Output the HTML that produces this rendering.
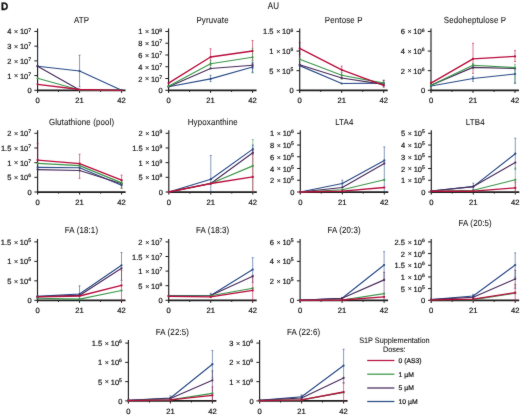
<!DOCTYPE html>
<html><head><meta charset="utf-8"><style>
html,body{margin:0;padding:0;background:#fff;width:520px;height:416px;overflow:hidden}
svg{display:block}
text{font-family:"Liberation Sans", sans-serif;fill:#111;stroke:#111;stroke-width:0.06px;text-rendering:geometricPrecision}
.t{stroke-width:0.2px}
</style></head><body>
<svg width="520" height="416" viewBox="0 0 520 416">
<defs><filter id="bl" filterUnits="userSpaceOnUse" x="0" y="0" width="520" height="416" color-interpolation-filters="sRGB"><feConvolveMatrix order="3" kernelMatrix="1 2 1 2 36 2 1 2 1" preserveAlpha="true"/></filter></defs>
<g filter="url(#bl)">
<rect width="520" height="416" fill="#fff"/>
<text transform="translate(1 9.75) scale(1 1.08)" font-size="10" font-weight="bold" style="fill:#111;stroke:#111;stroke-width:0.35">D</text>
<text transform="translate(267.8 9.4) scale(1 1.2)" font-size="8">AU</text>
<text transform="translate(81.55 22.85) scale(1 1.12)" font-size="7.9" letter-spacing="0.15" text-anchor="middle">ATP</text>
<path d="M37.55 28.45V92.9" stroke="#1c1c1c" stroke-width="1.15" fill="none"/>
<path d="M36.95 90.3H125.55" stroke="#1c1c1c" stroke-width="1.75" fill="none"/>
<text x="11.35" y="34.45" font-size="7.5" class="t" text-anchor="end">4</text>
<text x="16.05" y="34.25" font-size="7" text-anchor="middle">×</text>
<text x="24.05" y="34.45" font-size="7.5" class="t" text-anchor="middle">10</text>
<text x="29.65" y="31.55" font-size="5" class="t" text-anchor="middle">7</text>
<text x="11.35" y="49.16" font-size="7.5" class="t" text-anchor="end">3</text>
<text x="16.05" y="48.96" font-size="7" text-anchor="middle">×</text>
<text x="24.05" y="49.16" font-size="7.5" class="t" text-anchor="middle">10</text>
<text x="29.65" y="46.26" font-size="5" class="t" text-anchor="middle">7</text>
<text x="11.35" y="63.88" font-size="7.5" class="t" text-anchor="end">2</text>
<text x="16.05" y="63.67" font-size="7" text-anchor="middle">×</text>
<text x="24.05" y="63.88" font-size="7.5" class="t" text-anchor="middle">10</text>
<text x="29.65" y="60.98" font-size="5" class="t" text-anchor="middle">7</text>
<text x="11.35" y="78.59" font-size="7.5" class="t" text-anchor="end">1</text>
<text x="16.05" y="78.39" font-size="7" text-anchor="middle">×</text>
<text x="24.05" y="78.59" font-size="7.5" class="t" text-anchor="middle">10</text>
<text x="29.65" y="75.69" font-size="5" class="t" text-anchor="middle">7</text>
<text x="29.55" y="93.3" font-size="7.5" class="t" text-anchor="middle">0</text>
<path d="M34.35 31.45H37.55M34.35 46.16H37.55M34.35 60.88H37.55M34.35 75.59H37.55M34.35 90.3H37.55M79.55 90.3v2.6M121.55 90.3v2.6M58.55 90.3v1.6M100.55 90.3v1.6" stroke="#1c1c1c" stroke-width="1" fill="none"/>
<text x="37.55" y="103.2" font-size="7.6" class="t" text-anchor="middle">0</text>
<text x="79.55" y="103.2" font-size="7.6" class="t" text-anchor="middle">21</text>
<text x="121.55" y="103.2" font-size="7.6" class="t" text-anchor="middle">42</text>
<path d="M79.55 55.2V86.8M78.55 55.2h2M78.55 86.8h2" stroke="#284a86" stroke-width="0.8" fill="none" opacity="0.7"/>
<path d="M37.57 47V66.2M36.57 47h2M36.57 66.2h2" stroke="#284a86" stroke-width="0.8" fill="none" opacity="0.7"/>
<polyline points="37.55,66.2 79.55,71 121.55,90.3" stroke="#284a86" stroke-width="1.15" fill="none" stroke-linejoin="round"/>
<circle cx="37.55" cy="66.2" r="1.1" fill="#284a86"/>
<circle cx="79.55" cy="71" r="1.1" fill="#284a86"/>
<circle cx="121.55" cy="90.3" r="1.1" fill="#284a86"/>
<polyline points="37.55,66.2 79.55,90 121.55,90.3" stroke="#472a5a" stroke-width="1.15" fill="none" stroke-linejoin="round"/>
<circle cx="37.55" cy="66.2" r="1.1" fill="#472a5a"/>
<circle cx="79.55" cy="90" r="1.1" fill="#472a5a"/>
<circle cx="121.55" cy="90.3" r="1.1" fill="#472a5a"/>
<polyline points="37.55,78.3 79.55,90 121.55,90.3" stroke="#3a9648" stroke-width="1.15" fill="none" stroke-linejoin="round"/>
<circle cx="37.55" cy="78.3" r="1.1" fill="#3a9648"/>
<circle cx="79.55" cy="90" r="1.1" fill="#3a9648"/>
<circle cx="121.55" cy="90.3" r="1.1" fill="#3a9648"/>
<polyline points="37.55,84.3 79.55,89.5 121.55,90.3" stroke="#b80c3c" stroke-width="1.35" fill="none" stroke-linejoin="round"/>
<circle cx="37.55" cy="84.3" r="1.1" fill="#b80c3c"/>
<circle cx="79.55" cy="89.5" r="1.1" fill="#b80c3c"/>
<circle cx="121.55" cy="90.3" r="1.1" fill="#b80c3c"/>
<text transform="translate(212.55 22.85) scale(1 1.12)" font-size="7.9" letter-spacing="0.15" text-anchor="middle">Pyruvate</text>
<path d="M168.55 28.45V92.9" stroke="#1c1c1c" stroke-width="1.15" fill="none"/>
<path d="M167.95 90.3H256.55" stroke="#1c1c1c" stroke-width="1.75" fill="none"/>
<text x="142.35" y="34.45" font-size="7.5" class="t" text-anchor="end">1</text>
<text x="147.05" y="34.25" font-size="7" text-anchor="middle">×</text>
<text x="155.05" y="34.45" font-size="7.5" class="t" text-anchor="middle">10</text>
<text x="160.65" y="31.55" font-size="5" class="t" text-anchor="middle">8</text>
<text x="142.35" y="46.22" font-size="7.5" class="t" text-anchor="end">8</text>
<text x="147.05" y="46.02" font-size="7" text-anchor="middle">×</text>
<text x="155.05" y="46.22" font-size="7.5" class="t" text-anchor="middle">10</text>
<text x="160.65" y="43.32" font-size="5" class="t" text-anchor="middle">7</text>
<text x="142.35" y="57.99" font-size="7.5" class="t" text-anchor="end">6</text>
<text x="147.05" y="57.79" font-size="7" text-anchor="middle">×</text>
<text x="155.05" y="57.99" font-size="7.5" class="t" text-anchor="middle">10</text>
<text x="160.65" y="55.09" font-size="5" class="t" text-anchor="middle">7</text>
<text x="142.35" y="69.76" font-size="7.5" class="t" text-anchor="end">4</text>
<text x="147.05" y="69.56" font-size="7" text-anchor="middle">×</text>
<text x="155.05" y="69.76" font-size="7.5" class="t" text-anchor="middle">10</text>
<text x="160.65" y="66.86" font-size="5" class="t" text-anchor="middle">7</text>
<text x="142.35" y="81.53" font-size="7.5" class="t" text-anchor="end">2</text>
<text x="147.05" y="81.33" font-size="7" text-anchor="middle">×</text>
<text x="155.05" y="81.53" font-size="7.5" class="t" text-anchor="middle">10</text>
<text x="160.65" y="78.63" font-size="5" class="t" text-anchor="middle">7</text>
<text x="160.55" y="93.3" font-size="7.5" class="t" text-anchor="middle">0</text>
<path d="M165.35 31.45H168.55M165.35 43.22H168.55M165.35 54.99H168.55M165.35 66.76H168.55M165.35 78.53H168.55M165.35 90.3H168.55M210.55 90.3v2.6M252.55 90.3v2.6M189.55 90.3v1.6M231.55 90.3v1.6" stroke="#1c1c1c" stroke-width="1" fill="none"/>
<text x="168.55" y="103.2" font-size="7.6" class="t" text-anchor="middle">0</text>
<text x="210.55" y="103.2" font-size="7.6" class="t" text-anchor="middle">21</text>
<text x="252.55" y="103.2" font-size="7.6" class="t" text-anchor="middle">42</text>
<path d="M210.55 48.7V65.3M209.55 48.7h2M209.55 65.3h2" stroke="#b80c3c" stroke-width="0.8" fill="none" opacity="0.7"/>
<path d="M210.55 60.3V68.3M209.55 60.3h2M209.55 68.3h2" stroke="#3a9648" stroke-width="0.8" fill="none" opacity="0.7"/>
<path d="M210.55 75.2V81.6M209.55 75.2h2M209.55 81.6h2" stroke="#284a86" stroke-width="0.8" fill="none" opacity="0.7"/>
<path d="M252.55 40.5V60.3M251.55 40.5h2M251.55 60.3h2" stroke="#b80c3c" stroke-width="0.8" fill="none" opacity="0.7"/>
<path d="M252.55 48.3V72.9M251.55 48.3h2M251.55 72.9h2" stroke="#3a9648" stroke-width="0.8" fill="none" opacity="0.7"/>
<path d="M252.55 62.3V72.3M251.55 62.3h2M251.55 72.3h2" stroke="#284a86" stroke-width="0.8" fill="none" opacity="0.7"/>
<path d="M252.55 63.3V68.3M251.55 63.3h2M251.55 68.3h2" stroke="#472a5a" stroke-width="0.8" fill="none" opacity="0.7"/>
<polyline points="168.55,86.7 210.55,78.9 252.55,67" stroke="#284a86" stroke-width="1.15" fill="none" stroke-linejoin="round"/>
<circle cx="168.55" cy="86.7" r="1.1" fill="#284a86"/>
<circle cx="210.55" cy="78.9" r="1.1" fill="#284a86"/>
<circle cx="252.55" cy="67" r="1.1" fill="#284a86"/>
<polyline points="168.55,86.7 210.55,68.5 252.55,65.2" stroke="#472a5a" stroke-width="1.15" fill="none" stroke-linejoin="round"/>
<circle cx="168.55" cy="86.7" r="1.1" fill="#472a5a"/>
<circle cx="210.55" cy="68.5" r="1.1" fill="#472a5a"/>
<circle cx="252.55" cy="65.2" r="1.1" fill="#472a5a"/>
<polyline points="168.55,86.2 210.55,63.7 252.55,57.3" stroke="#3a9648" stroke-width="1.15" fill="none" stroke-linejoin="round"/>
<circle cx="168.55" cy="86.2" r="1.1" fill="#3a9648"/>
<circle cx="210.55" cy="63.7" r="1.1" fill="#3a9648"/>
<circle cx="252.55" cy="57.3" r="1.1" fill="#3a9648"/>
<polyline points="168.55,83.1 210.55,57 252.55,51" stroke="#b80c3c" stroke-width="1.35" fill="none" stroke-linejoin="round"/>
<circle cx="168.55" cy="83.1" r="1.1" fill="#b80c3c"/>
<circle cx="210.55" cy="57" r="1.1" fill="#b80c3c"/>
<circle cx="252.55" cy="51" r="1.1" fill="#b80c3c"/>
<text transform="translate(343.7 22.85) scale(1 1.12)" font-size="7.9" letter-spacing="0.15" text-anchor="middle">Pentose P</text>
<path d="M299.7 42.4V54.3M298.7 42.4h2M298.7 54.3h2" stroke="#b80c3c" stroke-width="0.8" fill="none" opacity="0.7"/>
<path d="M299.7 28.45V92.9" stroke="#1c1c1c" stroke-width="1.15" fill="none"/>
<path d="M299.1 90.3H387.7" stroke="#1c1c1c" stroke-width="1.75" fill="none"/>
<text x="273.5" y="34.45" font-size="7.5" class="t" text-anchor="end">1.5</text>
<text x="278.2" y="34.25" font-size="7" text-anchor="middle">×</text>
<text x="286.2" y="34.45" font-size="7.5" class="t" text-anchor="middle">10</text>
<text x="291.8" y="31.55" font-size="5" class="t" text-anchor="middle">6</text>
<text x="273.5" y="54.07" font-size="7.5" class="t" text-anchor="end">1</text>
<text x="278.2" y="53.87" font-size="7" text-anchor="middle">×</text>
<text x="286.2" y="54.07" font-size="7.5" class="t" text-anchor="middle">10</text>
<text x="291.8" y="51.17" font-size="5" class="t" text-anchor="middle">6</text>
<text x="273.5" y="73.68" font-size="7.5" class="t" text-anchor="end">5</text>
<text x="278.2" y="73.48" font-size="7" text-anchor="middle">×</text>
<text x="286.2" y="73.68" font-size="7.5" class="t" text-anchor="middle">10</text>
<text x="291.8" y="70.78" font-size="5" class="t" text-anchor="middle">5</text>
<text x="291.7" y="93.3" font-size="7.5" class="t" text-anchor="middle">0</text>
<path d="M296.5 31.45H299.7M296.5 51.07H299.7M296.5 70.68H299.7M296.5 90.3H299.7M341.7 90.3v2.6M383.7 90.3v2.6M320.7 90.3v1.6M362.7 90.3v1.6" stroke="#1c1c1c" stroke-width="1" fill="none"/>
<text x="299.7" y="103.2" font-size="7.6" class="t" text-anchor="middle">0</text>
<text x="341.7" y="103.2" font-size="7.6" class="t" text-anchor="middle">21</text>
<text x="383.7" y="103.2" font-size="7.6" class="t" text-anchor="middle">42</text>
<path d="M341.7 66.1V78M340.7 66.1h2M340.7 78h2" stroke="#b80c3c" stroke-width="0.8" fill="none" opacity="0.7"/>
<path d="M341.7 72.3V79.3M340.7 72.3h2M340.7 79.3h2" stroke="#3a9648" stroke-width="0.8" fill="none" opacity="0.7"/>
<path d="M383.7 80.3V87.3M382.7 80.3h2M382.7 87.3h2" stroke="#b80c3c" stroke-width="0.8" fill="none" opacity="0.7"/>
<path d="M383.7 80.3V86.3M382.7 80.3h2M382.7 86.3h2" stroke="#284a86" stroke-width="0.8" fill="none" opacity="0.7"/>
<polyline points="299.7,65.6 341.7,83.5 383.7,83.1" stroke="#284a86" stroke-width="1.15" fill="none" stroke-linejoin="round"/>
<circle cx="299.7" cy="65.6" r="1.1" fill="#284a86"/>
<circle cx="341.7" cy="83.5" r="1.1" fill="#284a86"/>
<circle cx="383.7" cy="83.1" r="1.1" fill="#284a86"/>
<polyline points="299.7,64.8 341.7,78 383.7,84.4" stroke="#472a5a" stroke-width="1.15" fill="none" stroke-linejoin="round"/>
<circle cx="299.7" cy="64.8" r="1.1" fill="#472a5a"/>
<circle cx="341.7" cy="78" r="1.1" fill="#472a5a"/>
<circle cx="383.7" cy="84.4" r="1.1" fill="#472a5a"/>
<polyline points="299.7,59.3 341.7,75.2 383.7,83.1" stroke="#3a9648" stroke-width="1.15" fill="none" stroke-linejoin="round"/>
<circle cx="299.7" cy="59.3" r="1.1" fill="#3a9648"/>
<circle cx="341.7" cy="75.2" r="1.1" fill="#3a9648"/>
<circle cx="383.7" cy="83.1" r="1.1" fill="#3a9648"/>
<polyline points="299.7,48.4 341.7,69.8 383.7,85.3" stroke="#b80c3c" stroke-width="1.35" fill="none" stroke-linejoin="round"/>
<circle cx="299.7" cy="48.4" r="1.1" fill="#b80c3c"/>
<circle cx="341.7" cy="69.8" r="1.1" fill="#b80c3c"/>
<circle cx="383.7" cy="85.3" r="1.1" fill="#b80c3c"/>
<text transform="translate(475 22.85) scale(1 1.12)" font-size="7.9" letter-spacing="0.15" text-anchor="middle">Sedoheptulose P</text>
<path d="M431 28.45V92.9" stroke="#1c1c1c" stroke-width="1.15" fill="none"/>
<path d="M430.4 90.3H519" stroke="#1c1c1c" stroke-width="1.75" fill="none"/>
<text x="404.8" y="34.45" font-size="7.5" class="t" text-anchor="end">6</text>
<text x="409.5" y="34.25" font-size="7" text-anchor="middle">×</text>
<text x="417.5" y="34.45" font-size="7.5" class="t" text-anchor="middle">10</text>
<text x="423.1" y="31.55" font-size="5" class="t" text-anchor="middle">6</text>
<text x="404.8" y="54.07" font-size="7.5" class="t" text-anchor="end">4</text>
<text x="409.5" y="53.87" font-size="7" text-anchor="middle">×</text>
<text x="417.5" y="54.07" font-size="7.5" class="t" text-anchor="middle">10</text>
<text x="423.1" y="51.17" font-size="5" class="t" text-anchor="middle">6</text>
<text x="404.8" y="73.68" font-size="7.5" class="t" text-anchor="end">2</text>
<text x="409.5" y="73.48" font-size="7" text-anchor="middle">×</text>
<text x="417.5" y="73.68" font-size="7.5" class="t" text-anchor="middle">10</text>
<text x="423.1" y="70.78" font-size="5" class="t" text-anchor="middle">6</text>
<text x="423" y="93.3" font-size="7.5" class="t" text-anchor="middle">0</text>
<path d="M427.8 31.45H431M427.8 51.07H431M427.8 70.68H431M427.8 90.3H431M473 90.3v2.6M515 90.3v2.6M452 90.3v1.6M494 90.3v1.6" stroke="#1c1c1c" stroke-width="1" fill="none"/>
<text x="431" y="103.2" font-size="7.6" class="t" text-anchor="middle">0</text>
<text x="473" y="103.2" font-size="7.6" class="t" text-anchor="middle">21</text>
<text x="515" y="103.2" font-size="7.6" class="t" text-anchor="middle">42</text>
<path d="M473 43.3V73.4M472 43.3h2M472 73.4h2" stroke="#b80c3c" stroke-width="0.8" fill="none" opacity="0.7"/>
<path d="M473 63.3V68.3M472 63.3h2M472 68.3h2" stroke="#3a9648" stroke-width="0.8" fill="none" opacity="0.7"/>
<path d="M473 76.3V81.3M472 76.3h2M472 81.3h2" stroke="#284a86" stroke-width="0.8" fill="none" opacity="0.7"/>
<path d="M515 50.6V61.5M514 50.6h2M514 61.5h2" stroke="#b80c3c" stroke-width="0.8" fill="none" opacity="0.7"/>
<path d="M515 64.3V83.5M514 64.3h2M514 83.5h2" stroke="#3a9648" stroke-width="0.8" fill="none" opacity="0.7"/>
<path d="M515 68.3V83M514 68.3h2M514 83h2" stroke="#284a86" stroke-width="0.8" fill="none" opacity="0.7"/>
<polyline points="431,86 473,78.5 515,74" stroke="#284a86" stroke-width="1.15" fill="none" stroke-linejoin="round"/>
<circle cx="431" cy="86" r="1.1" fill="#284a86"/>
<circle cx="473" cy="78.5" r="1.1" fill="#284a86"/>
<circle cx="515" cy="74" r="1.1" fill="#284a86"/>
<polyline points="431,85.3 473,67.4 515,68.5" stroke="#472a5a" stroke-width="1.15" fill="none" stroke-linejoin="round"/>
<circle cx="431" cy="85.3" r="1.1" fill="#472a5a"/>
<circle cx="473" cy="67.4" r="1.1" fill="#472a5a"/>
<circle cx="515" cy="68.5" r="1.1" fill="#472a5a"/>
<polyline points="431,85.3 473,65.2 515,67.6" stroke="#3a9648" stroke-width="1.15" fill="none" stroke-linejoin="round"/>
<circle cx="431" cy="85.3" r="1.1" fill="#3a9648"/>
<circle cx="473" cy="65.2" r="1.1" fill="#3a9648"/>
<circle cx="515" cy="67.6" r="1.1" fill="#3a9648"/>
<polyline points="431,83.1 473,58.8 515,56.4" stroke="#b80c3c" stroke-width="1.35" fill="none" stroke-linejoin="round"/>
<circle cx="431" cy="83.1" r="1.1" fill="#b80c3c"/>
<circle cx="473" cy="58.8" r="1.1" fill="#b80c3c"/>
<circle cx="515" cy="56.4" r="1.1" fill="#b80c3c"/>
<text transform="translate(81.6 124.7) scale(1 1.12)" font-size="7.9" letter-spacing="0.15" text-anchor="middle">Glutathione (pool)</text>
<path d="M37.6 130.3V194.6" stroke="#1c1c1c" stroke-width="1.15" fill="none"/>
<path d="M37 192H125.6" stroke="#1c1c1c" stroke-width="1.75" fill="none"/>
<text x="11.4" y="136.3" font-size="7.5" class="t" text-anchor="end">2</text>
<text x="16.1" y="136.1" font-size="7" text-anchor="middle">×</text>
<text x="24.1" y="136.3" font-size="7.5" class="t" text-anchor="middle">10</text>
<text x="29.7" y="133.4" font-size="5" class="t" text-anchor="middle">7</text>
<text x="11.4" y="150.98" font-size="7.5" class="t" text-anchor="end">1.5</text>
<text x="16.1" y="150.78" font-size="7" text-anchor="middle">×</text>
<text x="24.1" y="150.98" font-size="7.5" class="t" text-anchor="middle">10</text>
<text x="29.7" y="148.08" font-size="5" class="t" text-anchor="middle">7</text>
<text x="11.4" y="165.65" font-size="7.5" class="t" text-anchor="end">1</text>
<text x="16.1" y="165.45" font-size="7" text-anchor="middle">×</text>
<text x="24.1" y="165.65" font-size="7.5" class="t" text-anchor="middle">10</text>
<text x="29.7" y="162.75" font-size="5" class="t" text-anchor="middle">7</text>
<text x="11.4" y="180.32" font-size="7.5" class="t" text-anchor="end">5</text>
<text x="16.1" y="180.12" font-size="7" text-anchor="middle">×</text>
<text x="24.1" y="180.32" font-size="7.5" class="t" text-anchor="middle">10</text>
<text x="29.7" y="177.42" font-size="5" class="t" text-anchor="middle">6</text>
<text x="29.6" y="195" font-size="7.5" class="t" text-anchor="middle">0</text>
<path d="M34.4 133.3H37.6M34.4 147.98H37.6M34.4 162.65H37.6M34.4 177.32H37.6M34.4 192H37.6M79.6 192v2.6M121.6 192v2.6M58.6 192v1.6M100.6 192v1.6" stroke="#1c1c1c" stroke-width="1" fill="none"/>
<text x="37.6" y="204.9" font-size="7.6" class="t" text-anchor="middle">0</text>
<text x="79.6" y="204.9" font-size="7.6" class="t" text-anchor="middle">21</text>
<text x="121.6" y="204.9" font-size="7.6" class="t" text-anchor="middle">42</text>
<path d="M37.62 143.7V160M36.62 143.7h2M36.62 160h2" stroke="#b80c3c" stroke-width="0.8" fill="none" opacity="0.7"/>
<path d="M79.6 154.2V178.4M78.6 154.2h2M78.6 178.4h2" stroke="#b80c3c" stroke-width="0.8" fill="none" opacity="0.7"/>
<path d="M121.6 175.1V188.4M120.6 175.1h2M120.6 188.4h2" stroke="#b80c3c" stroke-width="0.8" fill="none" opacity="0.7"/>
<path d="M121.6 181V188M120.6 181h2M120.6 188h2" stroke="#3a9648" stroke-width="0.8" fill="none" opacity="0.7"/>
<polyline points="37.6,167.4 79.6,167.8 121.6,185.3" stroke="#284a86" stroke-width="1.15" fill="none" stroke-linejoin="round"/>
<circle cx="37.6" cy="167.4" r="1.1" fill="#284a86"/>
<circle cx="79.6" cy="167.8" r="1.1" fill="#284a86"/>
<circle cx="121.6" cy="185.3" r="1.1" fill="#284a86"/>
<polyline points="37.6,169.6 79.6,170.5 121.6,183.8" stroke="#472a5a" stroke-width="1.15" fill="none" stroke-linejoin="round"/>
<circle cx="37.6" cy="169.6" r="1.1" fill="#472a5a"/>
<circle cx="79.6" cy="170.5" r="1.1" fill="#472a5a"/>
<circle cx="121.6" cy="183.8" r="1.1" fill="#472a5a"/>
<polyline points="37.6,163.4 79.6,165.6 121.6,182.9" stroke="#3a9648" stroke-width="1.15" fill="none" stroke-linejoin="round"/>
<circle cx="37.6" cy="163.4" r="1.1" fill="#3a9648"/>
<circle cx="79.6" cy="165.6" r="1.1" fill="#3a9648"/>
<circle cx="121.6" cy="182.9" r="1.1" fill="#3a9648"/>
<polyline points="37.6,160.1 79.6,163.7 121.6,180.2" stroke="#b80c3c" stroke-width="1.35" fill="none" stroke-linejoin="round"/>
<circle cx="37.6" cy="160.1" r="1.1" fill="#b80c3c"/>
<circle cx="79.6" cy="163.7" r="1.1" fill="#b80c3c"/>
<circle cx="121.6" cy="180.2" r="1.1" fill="#b80c3c"/>
<text transform="translate(212.8 124.7) scale(1 1.12)" font-size="7.9" letter-spacing="0.15" text-anchor="middle">Hypoxanthine</text>
<path d="M168.8 130.3V194.6" stroke="#1c1c1c" stroke-width="1.15" fill="none"/>
<path d="M168.2 192H256.8" stroke="#1c1c1c" stroke-width="1.75" fill="none"/>
<text x="142.6" y="136.3" font-size="7.5" class="t" text-anchor="end">2</text>
<text x="147.3" y="136.1" font-size="7" text-anchor="middle">×</text>
<text x="155.3" y="136.3" font-size="7.5" class="t" text-anchor="middle">10</text>
<text x="160.9" y="133.4" font-size="5" class="t" text-anchor="middle">9</text>
<text x="142.6" y="150.98" font-size="7.5" class="t" text-anchor="end">1.5</text>
<text x="147.3" y="150.78" font-size="7" text-anchor="middle">×</text>
<text x="155.3" y="150.98" font-size="7.5" class="t" text-anchor="middle">10</text>
<text x="160.9" y="148.08" font-size="5" class="t" text-anchor="middle">9</text>
<text x="142.6" y="165.65" font-size="7.5" class="t" text-anchor="end">1</text>
<text x="147.3" y="165.45" font-size="7" text-anchor="middle">×</text>
<text x="155.3" y="165.65" font-size="7.5" class="t" text-anchor="middle">10</text>
<text x="160.9" y="162.75" font-size="5" class="t" text-anchor="middle">9</text>
<text x="142.6" y="180.32" font-size="7.5" class="t" text-anchor="end">5</text>
<text x="147.3" y="180.12" font-size="7" text-anchor="middle">×</text>
<text x="155.3" y="180.32" font-size="7.5" class="t" text-anchor="middle">10</text>
<text x="160.9" y="177.42" font-size="5" class="t" text-anchor="middle">8</text>
<text x="160.8" y="195" font-size="7.5" class="t" text-anchor="middle">0</text>
<path d="M165.6 133.3H168.8M165.6 147.98H168.8M165.6 162.65H168.8M165.6 177.32H168.8M165.6 192H168.8M210.8 192v2.6M252.8 192v2.6M189.8 192v1.6M231.8 192v1.6" stroke="#1c1c1c" stroke-width="1" fill="none"/>
<text x="168.8" y="204.9" font-size="7.6" class="t" text-anchor="middle">0</text>
<text x="210.8" y="204.9" font-size="7.6" class="t" text-anchor="middle">21</text>
<text x="252.8" y="204.9" font-size="7.6" class="t" text-anchor="middle">42</text>
<path d="M210.8 155.5V192M209.8 155.5h2M209.8 192h2" stroke="#284a86" stroke-width="0.8" fill="none" opacity="0.7"/>
<path d="M252.8 139.6V192M251.8 139.6h2M251.8 192h2" stroke="#3a9648" stroke-width="0.8" fill="none" opacity="0.7"/>
<path d="M252.8 150V192M251.8 150h2M251.8 192h2" stroke="#b80c3c" stroke-width="0.8" fill="none" opacity="0.7"/>
<path d="M252.8 145V154M251.8 145h2M251.8 154h2" stroke="#284a86" stroke-width="0.8" fill="none" opacity="0.7"/>
<polyline points="168.8,192 210.8,179.2 252.8,149.1" stroke="#284a86" stroke-width="1.15" fill="none" stroke-linejoin="round"/>
<circle cx="168.8" cy="192" r="1.1" fill="#284a86"/>
<circle cx="210.8" cy="179.2" r="1.1" fill="#284a86"/>
<circle cx="252.8" cy="149.1" r="1.1" fill="#284a86"/>
<polyline points="168.8,192 210.8,183.5 252.8,152.8" stroke="#472a5a" stroke-width="1.15" fill="none" stroke-linejoin="round"/>
<circle cx="168.8" cy="192" r="1.1" fill="#472a5a"/>
<circle cx="210.8" cy="183.5" r="1.1" fill="#472a5a"/>
<circle cx="252.8" cy="152.8" r="1.1" fill="#472a5a"/>
<polyline points="168.8,192 210.8,183.5 252.8,165.9" stroke="#3a9648" stroke-width="1.15" fill="none" stroke-linejoin="round"/>
<circle cx="168.8" cy="192" r="1.1" fill="#3a9648"/>
<circle cx="210.8" cy="183.5" r="1.1" fill="#3a9648"/>
<circle cx="252.8" cy="165.9" r="1.1" fill="#3a9648"/>
<polyline points="168.8,192 210.8,183.5 252.8,176.9" stroke="#b80c3c" stroke-width="1.35" fill="none" stroke-linejoin="round"/>
<circle cx="168.8" cy="192" r="1.1" fill="#b80c3c"/>
<circle cx="210.8" cy="183.5" r="1.1" fill="#b80c3c"/>
<circle cx="252.8" cy="176.9" r="1.1" fill="#b80c3c"/>
<text transform="translate(344.3 124.7) scale(1 1.12)" font-size="7.9" letter-spacing="0.15" text-anchor="middle">LTA4</text>
<path d="M300.3 130.3V194.6" stroke="#1c1c1c" stroke-width="1.15" fill="none"/>
<path d="M299.7 192H388.3" stroke="#1c1c1c" stroke-width="1.75" fill="none"/>
<text x="274.1" y="136.3" font-size="7.5" class="t" text-anchor="end">1</text>
<text x="278.8" y="136.1" font-size="7" text-anchor="middle">×</text>
<text x="286.8" y="136.3" font-size="7.5" class="t" text-anchor="middle">10</text>
<text x="292.4" y="133.4" font-size="5" class="t" text-anchor="middle">6</text>
<text x="274.1" y="148.04" font-size="7.5" class="t" text-anchor="end">8</text>
<text x="278.8" y="147.84" font-size="7" text-anchor="middle">×</text>
<text x="286.8" y="148.04" font-size="7.5" class="t" text-anchor="middle">10</text>
<text x="292.4" y="145.14" font-size="5" class="t" text-anchor="middle">5</text>
<text x="274.1" y="159.78" font-size="7.5" class="t" text-anchor="end">6</text>
<text x="278.8" y="159.58" font-size="7" text-anchor="middle">×</text>
<text x="286.8" y="159.78" font-size="7.5" class="t" text-anchor="middle">10</text>
<text x="292.4" y="156.88" font-size="5" class="t" text-anchor="middle">5</text>
<text x="274.1" y="171.52" font-size="7.5" class="t" text-anchor="end">4</text>
<text x="278.8" y="171.32" font-size="7" text-anchor="middle">×</text>
<text x="286.8" y="171.52" font-size="7.5" class="t" text-anchor="middle">10</text>
<text x="292.4" y="168.62" font-size="5" class="t" text-anchor="middle">5</text>
<text x="274.1" y="183.26" font-size="7.5" class="t" text-anchor="end">2</text>
<text x="278.8" y="183.06" font-size="7" text-anchor="middle">×</text>
<text x="286.8" y="183.26" font-size="7.5" class="t" text-anchor="middle">10</text>
<text x="292.4" y="180.36" font-size="5" class="t" text-anchor="middle">5</text>
<text x="292.3" y="195" font-size="7.5" class="t" text-anchor="middle">0</text>
<path d="M297.1 133.3H300.3M297.1 145.04H300.3M297.1 156.78H300.3M297.1 168.52H300.3M297.1 180.26H300.3M297.1 192H300.3M342.3 192v2.6M384.3 192v2.6M321.3 192v1.6M363.3 192v1.6" stroke="#1c1c1c" stroke-width="1" fill="none"/>
<text x="300.3" y="204.9" font-size="7.6" class="t" text-anchor="middle">0</text>
<text x="342.3" y="204.9" font-size="7.6" class="t" text-anchor="middle">21</text>
<text x="384.3" y="204.9" font-size="7.6" class="t" text-anchor="middle">42</text>
<path d="M384.3 146.9V192M383.3 146.9h2M383.3 192h2" stroke="#284a86" stroke-width="0.8" fill="none" opacity="0.7"/>
<path d="M342.3 180.2V186.2M341.3 180.2h2M341.3 186.2h2" stroke="#284a86" stroke-width="0.8" fill="none" opacity="0.7"/>
<polyline points="300.3,192 342.3,183.5 384.3,160.4" stroke="#284a86" stroke-width="1.15" fill="none" stroke-linejoin="round"/>
<circle cx="300.3" cy="192" r="1.1" fill="#284a86"/>
<circle cx="342.3" cy="183.5" r="1.1" fill="#284a86"/>
<circle cx="384.3" cy="160.4" r="1.1" fill="#284a86"/>
<polyline points="300.3,192 342.3,187.5 384.3,163.4" stroke="#472a5a" stroke-width="1.15" fill="none" stroke-linejoin="round"/>
<circle cx="300.3" cy="192" r="1.1" fill="#472a5a"/>
<circle cx="342.3" cy="187.5" r="1.1" fill="#472a5a"/>
<circle cx="384.3" cy="163.4" r="1.1" fill="#472a5a"/>
<polyline points="300.3,192 342.3,189.7 384.3,179.8" stroke="#3a9648" stroke-width="1.15" fill="none" stroke-linejoin="round"/>
<circle cx="300.3" cy="192" r="1.1" fill="#3a9648"/>
<circle cx="342.3" cy="189.7" r="1.1" fill="#3a9648"/>
<circle cx="384.3" cy="179.8" r="1.1" fill="#3a9648"/>
<polyline points="300.3,192 342.3,191.2 384.3,187.5" stroke="#b80c3c" stroke-width="1.35" fill="none" stroke-linejoin="round"/>
<circle cx="300.3" cy="192" r="1.1" fill="#b80c3c"/>
<circle cx="342.3" cy="191.2" r="1.1" fill="#b80c3c"/>
<circle cx="384.3" cy="187.5" r="1.1" fill="#b80c3c"/>
<text transform="translate(475.3 124.7) scale(1 1.12)" font-size="7.9" letter-spacing="0.15" text-anchor="middle">LTB4</text>
<path d="M431.3 130.3V194.6" stroke="#1c1c1c" stroke-width="1.15" fill="none"/>
<path d="M430.7 192H519.3" stroke="#1c1c1c" stroke-width="1.75" fill="none"/>
<text x="405.1" y="136.3" font-size="7.5" class="t" text-anchor="end">5</text>
<text x="409.8" y="136.1" font-size="7" text-anchor="middle">×</text>
<text x="417.8" y="136.3" font-size="7.5" class="t" text-anchor="middle">10</text>
<text x="423.4" y="133.4" font-size="5" class="t" text-anchor="middle">5</text>
<text x="405.1" y="148.04" font-size="7.5" class="t" text-anchor="end">4</text>
<text x="409.8" y="147.84" font-size="7" text-anchor="middle">×</text>
<text x="417.8" y="148.04" font-size="7.5" class="t" text-anchor="middle">10</text>
<text x="423.4" y="145.14" font-size="5" class="t" text-anchor="middle">5</text>
<text x="405.1" y="159.78" font-size="7.5" class="t" text-anchor="end">3</text>
<text x="409.8" y="159.58" font-size="7" text-anchor="middle">×</text>
<text x="417.8" y="159.78" font-size="7.5" class="t" text-anchor="middle">10</text>
<text x="423.4" y="156.88" font-size="5" class="t" text-anchor="middle">5</text>
<text x="405.1" y="171.52" font-size="7.5" class="t" text-anchor="end">2</text>
<text x="409.8" y="171.32" font-size="7" text-anchor="middle">×</text>
<text x="417.8" y="171.52" font-size="7.5" class="t" text-anchor="middle">10</text>
<text x="423.4" y="168.62" font-size="5" class="t" text-anchor="middle">5</text>
<text x="405.1" y="183.26" font-size="7.5" class="t" text-anchor="end">1</text>
<text x="409.8" y="183.06" font-size="7" text-anchor="middle">×</text>
<text x="417.8" y="183.26" font-size="7.5" class="t" text-anchor="middle">10</text>
<text x="423.4" y="180.36" font-size="5" class="t" text-anchor="middle">5</text>
<text x="423.3" y="195" font-size="7.5" class="t" text-anchor="middle">0</text>
<path d="M428.1 133.3H431.3M428.1 145.04H431.3M428.1 156.78H431.3M428.1 168.52H431.3M428.1 180.26H431.3M428.1 192H431.3M473.3 192v2.6M515.3 192v2.6M452.3 192v1.6M494.3 192v1.6" stroke="#1c1c1c" stroke-width="1" fill="none"/>
<text x="431.3" y="204.9" font-size="7.6" class="t" text-anchor="middle">0</text>
<text x="473.3" y="204.9" font-size="7.6" class="t" text-anchor="middle">21</text>
<text x="515.3" y="204.9" font-size="7.6" class="t" text-anchor="middle">42</text>
<path d="M515.3 138.2V169.2M514.3 138.2h2M514.3 169.2h2" stroke="#284a86" stroke-width="0.8" fill="none" opacity="0.7"/>
<path d="M515.3 168V192M514.3 168h2M514.3 192h2" stroke="#3a9648" stroke-width="0.8" fill="none" opacity="0.7"/>
<path d="M515.3 182V192M514.3 182h2M514.3 192h2" stroke="#b80c3c" stroke-width="0.8" fill="none" opacity="0.7"/>
<path d="M473.3 183.2V189.2M472.3 183.2h2M472.3 189.2h2" stroke="#284a86" stroke-width="0.8" fill="none" opacity="0.7"/>
<polyline points="431.3,191 473.3,186.6 515.3,153.7" stroke="#284a86" stroke-width="1.15" fill="none" stroke-linejoin="round"/>
<circle cx="431.3" cy="191" r="1.1" fill="#284a86"/>
<circle cx="473.3" cy="186.6" r="1.1" fill="#284a86"/>
<circle cx="515.3" cy="153.7" r="1.1" fill="#284a86"/>
<polyline points="431.3,191 473.3,186.6 515.3,162.5" stroke="#472a5a" stroke-width="1.15" fill="none" stroke-linejoin="round"/>
<circle cx="431.3" cy="191" r="1.1" fill="#472a5a"/>
<circle cx="473.3" cy="186.6" r="1.1" fill="#472a5a"/>
<circle cx="515.3" cy="162.5" r="1.1" fill="#472a5a"/>
<polyline points="431.3,191.2 473.3,190.2 515.3,179.8" stroke="#3a9648" stroke-width="1.15" fill="none" stroke-linejoin="round"/>
<circle cx="431.3" cy="191.2" r="1.1" fill="#3a9648"/>
<circle cx="473.3" cy="190.2" r="1.1" fill="#3a9648"/>
<circle cx="515.3" cy="179.8" r="1.1" fill="#3a9648"/>
<polyline points="431.3,191.2 473.3,191.2 515.3,187.9" stroke="#b80c3c" stroke-width="1.35" fill="none" stroke-linejoin="round"/>
<circle cx="431.3" cy="191.2" r="1.1" fill="#b80c3c"/>
<circle cx="473.3" cy="191.2" r="1.1" fill="#b80c3c"/>
<circle cx="515.3" cy="187.9" r="1.1" fill="#b80c3c"/>
<text transform="translate(81.5 233.3) scale(1 1.12)" font-size="7.9" letter-spacing="0.15" text-anchor="middle">FA (18:1)</text>
<path d="M37.5 238.9V302.9" stroke="#1c1c1c" stroke-width="1.15" fill="none"/>
<path d="M36.9 300.3H125.5" stroke="#1c1c1c" stroke-width="1.75" fill="none"/>
<text x="11.3" y="244.9" font-size="7.5" class="t" text-anchor="end">1.5</text>
<text x="16" y="244.7" font-size="7" text-anchor="middle">×</text>
<text x="24" y="244.9" font-size="7.5" class="t" text-anchor="middle">10</text>
<text x="29.6" y="242" font-size="5" class="t" text-anchor="middle">5</text>
<text x="11.3" y="264.37" font-size="7.5" class="t" text-anchor="end">1</text>
<text x="16" y="264.17" font-size="7" text-anchor="middle">×</text>
<text x="24" y="264.37" font-size="7.5" class="t" text-anchor="middle">10</text>
<text x="29.6" y="261.47" font-size="5" class="t" text-anchor="middle">5</text>
<text x="11.3" y="283.83" font-size="7.5" class="t" text-anchor="end">5</text>
<text x="16" y="283.63" font-size="7" text-anchor="middle">×</text>
<text x="24" y="283.83" font-size="7.5" class="t" text-anchor="middle">10</text>
<text x="29.6" y="280.93" font-size="5" class="t" text-anchor="middle">4</text>
<text x="29.5" y="303.3" font-size="7.5" class="t" text-anchor="middle">0</text>
<path d="M34.3 241.9H37.5M34.3 261.37H37.5M34.3 280.83H37.5M34.3 300.3H37.5M79.5 300.3v2.6M121.5 300.3v2.6M58.5 300.3v1.6M100.5 300.3v1.6" stroke="#1c1c1c" stroke-width="1" fill="none"/>
<text x="37.5" y="313.2" font-size="7.6" class="t" text-anchor="middle">0</text>
<text x="79.5" y="313.2" font-size="7.6" class="t" text-anchor="middle">21</text>
<text x="121.5" y="313.2" font-size="7.6" class="t" text-anchor="middle">42</text>
<path d="M121.5 252.5V280.3M120.5 252.5h2M120.5 280.3h2" stroke="#284a86" stroke-width="0.8" fill="none" opacity="0.7"/>
<path d="M121.5 270.3V300.3M120.5 270.3h2M120.5 300.3h2" stroke="#b80c3c" stroke-width="0.8" fill="none" opacity="0.7"/>
<path d="M79.5 285.8V300.3M78.5 285.8h2M78.5 300.3h2" stroke="#284a86" stroke-width="0.8" fill="none" opacity="0.7"/>
<polyline points="37.5,296.4 79.5,294 121.5,265.3" stroke="#284a86" stroke-width="1.15" fill="none" stroke-linejoin="round"/>
<circle cx="37.5" cy="296.4" r="1.1" fill="#284a86"/>
<circle cx="79.5" cy="294" r="1.1" fill="#284a86"/>
<circle cx="121.5" cy="265.3" r="1.1" fill="#284a86"/>
<polyline points="37.5,296.6 79.5,295.4 121.5,268.3" stroke="#472a5a" stroke-width="1.15" fill="none" stroke-linejoin="round"/>
<circle cx="37.5" cy="296.6" r="1.1" fill="#472a5a"/>
<circle cx="79.5" cy="295.4" r="1.1" fill="#472a5a"/>
<circle cx="121.5" cy="268.3" r="1.1" fill="#472a5a"/>
<polyline points="37.5,298.2 79.5,299.1 121.5,290.5" stroke="#3a9648" stroke-width="1.15" fill="none" stroke-linejoin="round"/>
<circle cx="37.5" cy="298.2" r="1.1" fill="#3a9648"/>
<circle cx="79.5" cy="299.1" r="1.1" fill="#3a9648"/>
<circle cx="121.5" cy="290.5" r="1.1" fill="#3a9648"/>
<polyline points="37.5,296.9 79.5,296 121.5,285.4" stroke="#b80c3c" stroke-width="1.35" fill="none" stroke-linejoin="round"/>
<circle cx="37.5" cy="296.9" r="1.1" fill="#b80c3c"/>
<circle cx="79.5" cy="296" r="1.1" fill="#b80c3c"/>
<circle cx="121.5" cy="285.4" r="1.1" fill="#b80c3c"/>
<text transform="translate(212.7 233.3) scale(1 1.12)" font-size="7.9" letter-spacing="0.15" text-anchor="middle">FA (18:3)</text>
<path d="M168.7 238.9V302.9" stroke="#1c1c1c" stroke-width="1.15" fill="none"/>
<path d="M168.1 300.3H256.7" stroke="#1c1c1c" stroke-width="1.75" fill="none"/>
<text x="142.5" y="244.9" font-size="7.5" class="t" text-anchor="end">2</text>
<text x="147.2" y="244.7" font-size="7" text-anchor="middle">×</text>
<text x="155.2" y="244.9" font-size="7.5" class="t" text-anchor="middle">10</text>
<text x="160.8" y="242" font-size="5" class="t" text-anchor="middle">7</text>
<text x="142.5" y="259.5" font-size="7.5" class="t" text-anchor="end">1.5</text>
<text x="147.2" y="259.3" font-size="7" text-anchor="middle">×</text>
<text x="155.2" y="259.5" font-size="7.5" class="t" text-anchor="middle">10</text>
<text x="160.8" y="256.6" font-size="5" class="t" text-anchor="middle">7</text>
<text x="142.5" y="274.1" font-size="7.5" class="t" text-anchor="end">1</text>
<text x="147.2" y="273.9" font-size="7" text-anchor="middle">×</text>
<text x="155.2" y="274.1" font-size="7.5" class="t" text-anchor="middle">10</text>
<text x="160.8" y="271.2" font-size="5" class="t" text-anchor="middle">7</text>
<text x="142.5" y="288.7" font-size="7.5" class="t" text-anchor="end">5</text>
<text x="147.2" y="288.5" font-size="7" text-anchor="middle">×</text>
<text x="155.2" y="288.7" font-size="7.5" class="t" text-anchor="middle">10</text>
<text x="160.8" y="285.8" font-size="5" class="t" text-anchor="middle">6</text>
<text x="160.7" y="303.3" font-size="7.5" class="t" text-anchor="middle">0</text>
<path d="M165.5 241.9H168.7M165.5 256.5H168.7M165.5 271.1H168.7M165.5 285.7H168.7M165.5 300.3H168.7M210.7 300.3v2.6M252.7 300.3v2.6M189.7 300.3v1.6M231.7 300.3v1.6" stroke="#1c1c1c" stroke-width="1" fill="none"/>
<text x="168.7" y="313.2" font-size="7.6" class="t" text-anchor="middle">0</text>
<text x="210.7" y="313.2" font-size="7.6" class="t" text-anchor="middle">21</text>
<text x="252.7" y="313.2" font-size="7.6" class="t" text-anchor="middle">42</text>
<path d="M252.7 257.7V282.3M251.7 257.7h2M251.7 282.3h2" stroke="#284a86" stroke-width="0.8" fill="none" opacity="0.7"/>
<path d="M252.7 275.3V300.3M251.7 275.3h2M251.7 300.3h2" stroke="#b80c3c" stroke-width="0.8" fill="none" opacity="0.7"/>
<path d="M210.7 293.3V297.3M209.7 293.3h2M209.7 297.3h2" stroke="#284a86" stroke-width="0.8" fill="none" opacity="0.7"/>
<polyline points="168.7,295.8 210.7,295.5 252.7,269.5" stroke="#284a86" stroke-width="1.15" fill="none" stroke-linejoin="round"/>
<circle cx="168.7" cy="295.8" r="1.1" fill="#284a86"/>
<circle cx="210.7" cy="295.5" r="1.1" fill="#284a86"/>
<circle cx="252.7" cy="269.5" r="1.1" fill="#284a86"/>
<polyline points="168.7,295.8 210.7,295.5 252.7,276.3" stroke="#472a5a" stroke-width="1.15" fill="none" stroke-linejoin="round"/>
<circle cx="168.7" cy="295.8" r="1.1" fill="#472a5a"/>
<circle cx="210.7" cy="295.5" r="1.1" fill="#472a5a"/>
<circle cx="252.7" cy="276.3" r="1.1" fill="#472a5a"/>
<polyline points="168.7,296.1 210.7,295.8 252.7,288.2" stroke="#3a9648" stroke-width="1.15" fill="none" stroke-linejoin="round"/>
<circle cx="168.7" cy="296.1" r="1.1" fill="#3a9648"/>
<circle cx="210.7" cy="295.8" r="1.1" fill="#3a9648"/>
<circle cx="252.7" cy="288.2" r="1.1" fill="#3a9648"/>
<polyline points="168.7,296.4 210.7,296.8 252.7,290.4" stroke="#b80c3c" stroke-width="1.35" fill="none" stroke-linejoin="round"/>
<circle cx="168.7" cy="296.4" r="1.1" fill="#b80c3c"/>
<circle cx="210.7" cy="296.8" r="1.1" fill="#b80c3c"/>
<circle cx="252.7" cy="290.4" r="1.1" fill="#b80c3c"/>
<text transform="translate(344.1 233.3) scale(1 1.12)" font-size="7.9" letter-spacing="0.15" text-anchor="middle">FA (20:3)</text>
<path d="M300.1 238.9V302.9" stroke="#1c1c1c" stroke-width="1.15" fill="none"/>
<path d="M299.5 300.3H388.1" stroke="#1c1c1c" stroke-width="1.75" fill="none"/>
<text x="273.9" y="244.9" font-size="7.5" class="t" text-anchor="end">6</text>
<text x="278.6" y="244.7" font-size="7" text-anchor="middle">×</text>
<text x="286.6" y="244.9" font-size="7.5" class="t" text-anchor="middle">10</text>
<text x="292.2" y="242" font-size="5" class="t" text-anchor="middle">5</text>
<text x="273.9" y="264.37" font-size="7.5" class="t" text-anchor="end">4</text>
<text x="278.6" y="264.17" font-size="7" text-anchor="middle">×</text>
<text x="286.6" y="264.37" font-size="7.5" class="t" text-anchor="middle">10</text>
<text x="292.2" y="261.47" font-size="5" class="t" text-anchor="middle">5</text>
<text x="273.9" y="283.83" font-size="7.5" class="t" text-anchor="end">2</text>
<text x="278.6" y="283.63" font-size="7" text-anchor="middle">×</text>
<text x="286.6" y="283.83" font-size="7.5" class="t" text-anchor="middle">10</text>
<text x="292.2" y="280.93" font-size="5" class="t" text-anchor="middle">5</text>
<text x="292.1" y="303.3" font-size="7.5" class="t" text-anchor="middle">0</text>
<path d="M296.9 241.9H300.1M296.9 261.37H300.1M296.9 280.83H300.1M296.9 300.3H300.1M342.1 300.3v2.6M384.1 300.3v2.6M321.1 300.3v1.6M363.1 300.3v1.6" stroke="#1c1c1c" stroke-width="1" fill="none"/>
<text x="300.1" y="313.2" font-size="7.6" class="t" text-anchor="middle">0</text>
<text x="342.1" y="313.2" font-size="7.6" class="t" text-anchor="middle">21</text>
<text x="384.1" y="313.2" font-size="7.6" class="t" text-anchor="middle">42</text>
<path d="M384.1 251.6V280.3M383.1 251.6h2M383.1 280.3h2" stroke="#284a86" stroke-width="0.8" fill="none" opacity="0.7"/>
<path d="M384.1 272.3V300.3M383.1 272.3h2M383.1 300.3h2" stroke="#472a5a" stroke-width="0.8" fill="none" opacity="0.7"/>
<polyline points="300.1,300.3 342.1,298.2 384.1,265" stroke="#284a86" stroke-width="1.15" fill="none" stroke-linejoin="round"/>
<circle cx="300.1" cy="300.3" r="1.1" fill="#284a86"/>
<circle cx="342.1" cy="298.2" r="1.1" fill="#284a86"/>
<circle cx="384.1" cy="265" r="1.1" fill="#284a86"/>
<polyline points="300.1,300.3 342.1,298.2 384.1,279.9" stroke="#472a5a" stroke-width="1.15" fill="none" stroke-linejoin="round"/>
<circle cx="300.1" cy="300.3" r="1.1" fill="#472a5a"/>
<circle cx="342.1" cy="298.2" r="1.1" fill="#472a5a"/>
<circle cx="384.1" cy="279.9" r="1.1" fill="#472a5a"/>
<polyline points="300.1,300.3 342.1,300 384.1,293.6" stroke="#3a9648" stroke-width="1.15" fill="none" stroke-linejoin="round"/>
<circle cx="300.1" cy="300.3" r="1.1" fill="#3a9648"/>
<circle cx="342.1" cy="300" r="1.1" fill="#3a9648"/>
<circle cx="384.1" cy="293.6" r="1.1" fill="#3a9648"/>
<polyline points="300.1,300.3 342.1,300 384.1,296.9" stroke="#b80c3c" stroke-width="1.35" fill="none" stroke-linejoin="round"/>
<circle cx="300.1" cy="300.3" r="1.1" fill="#b80c3c"/>
<circle cx="342.1" cy="300" r="1.1" fill="#b80c3c"/>
<circle cx="384.1" cy="296.9" r="1.1" fill="#b80c3c"/>
<text transform="translate(475.2 225.9) scale(1 1.12)" font-size="7.9" letter-spacing="0.15" text-anchor="middle">FA (20:5)</text>
<path d="M431.2 238.9V302.9" stroke="#1c1c1c" stroke-width="1.15" fill="none"/>
<path d="M430.6 300.3H519.2" stroke="#1c1c1c" stroke-width="1.75" fill="none"/>
<text x="405" y="244.9" font-size="7.5" class="t" text-anchor="end">2.5</text>
<text x="409.7" y="244.7" font-size="7" text-anchor="middle">×</text>
<text x="417.7" y="244.9" font-size="7.5" class="t" text-anchor="middle">10</text>
<text x="423.3" y="242" font-size="5" class="t" text-anchor="middle">6</text>
<text x="405" y="256.58" font-size="7.5" class="t" text-anchor="end">2</text>
<text x="409.7" y="256.38" font-size="7" text-anchor="middle">×</text>
<text x="417.7" y="256.58" font-size="7.5" class="t" text-anchor="middle">10</text>
<text x="423.3" y="253.68" font-size="5" class="t" text-anchor="middle">6</text>
<text x="405" y="268.26" font-size="7.5" class="t" text-anchor="end">1.5</text>
<text x="409.7" y="268.06" font-size="7" text-anchor="middle">×</text>
<text x="417.7" y="268.26" font-size="7.5" class="t" text-anchor="middle">10</text>
<text x="423.3" y="265.36" font-size="5" class="t" text-anchor="middle">6</text>
<text x="405" y="279.94" font-size="7.5" class="t" text-anchor="end">1</text>
<text x="409.7" y="279.74" font-size="7" text-anchor="middle">×</text>
<text x="417.7" y="279.94" font-size="7.5" class="t" text-anchor="middle">10</text>
<text x="423.3" y="277.04" font-size="5" class="t" text-anchor="middle">6</text>
<text x="405" y="291.62" font-size="7.5" class="t" text-anchor="end">5</text>
<text x="409.7" y="291.42" font-size="7" text-anchor="middle">×</text>
<text x="417.7" y="291.62" font-size="7.5" class="t" text-anchor="middle">10</text>
<text x="423.3" y="288.72" font-size="5" class="t" text-anchor="middle">5</text>
<text x="423.2" y="303.3" font-size="7.5" class="t" text-anchor="middle">0</text>
<path d="M428 241.9H431.2M428 253.58H431.2M428 265.26H431.2M428 276.94H431.2M428 288.62H431.2M428 300.3H431.2M473.2 300.3v2.6M515.2 300.3v2.6M452.2 300.3v1.6M494.2 300.3v1.6" stroke="#1c1c1c" stroke-width="1" fill="none"/>
<text x="431.2" y="313.2" font-size="7.6" class="t" text-anchor="middle">0</text>
<text x="473.2" y="313.2" font-size="7.6" class="t" text-anchor="middle">21</text>
<text x="515.2" y="313.2" font-size="7.6" class="t" text-anchor="middle">42</text>
<path d="M515.2 252.9V277.3M514.2 252.9h2M514.2 277.3h2" stroke="#284a86" stroke-width="0.8" fill="none" opacity="0.7"/>
<path d="M515.2 284.3V300.3M514.2 284.3h2M514.2 300.3h2" stroke="#b80c3c" stroke-width="0.8" fill="none" opacity="0.7"/>
<path d="M515.2 270.3V288.3M514.2 270.3h2M514.2 288.3h2" stroke="#472a5a" stroke-width="0.8" fill="none" opacity="0.7"/>
<path d="M473.2 294.3V298.3M472.2 294.3h2M472.2 298.3h2" stroke="#284a86" stroke-width="0.8" fill="none" opacity="0.7"/>
<polyline points="431.2,299.6 473.2,296 515.2,265" stroke="#284a86" stroke-width="1.15" fill="none" stroke-linejoin="round"/>
<circle cx="431.2" cy="299.6" r="1.1" fill="#284a86"/>
<circle cx="473.2" cy="296" r="1.1" fill="#284a86"/>
<circle cx="515.2" cy="265" r="1.1" fill="#284a86"/>
<polyline points="431.2,299.6 473.2,297.3 515.2,279" stroke="#472a5a" stroke-width="1.15" fill="none" stroke-linejoin="round"/>
<circle cx="431.2" cy="299.6" r="1.1" fill="#472a5a"/>
<circle cx="473.2" cy="297.3" r="1.1" fill="#472a5a"/>
<circle cx="515.2" cy="279" r="1.1" fill="#472a5a"/>
<polyline points="431.2,299.8 473.2,299.6 515.2,293.3" stroke="#3a9648" stroke-width="1.15" fill="none" stroke-linejoin="round"/>
<circle cx="431.2" cy="299.8" r="1.1" fill="#3a9648"/>
<circle cx="473.2" cy="299.6" r="1.1" fill="#3a9648"/>
<circle cx="515.2" cy="293.3" r="1.1" fill="#3a9648"/>
<polyline points="431.2,299.8 473.2,299.1 515.2,292.7" stroke="#b80c3c" stroke-width="1.35" fill="none" stroke-linejoin="round"/>
<circle cx="431.2" cy="299.8" r="1.1" fill="#b80c3c"/>
<circle cx="473.2" cy="299.1" r="1.1" fill="#b80c3c"/>
<circle cx="515.2" cy="292.7" r="1.1" fill="#b80c3c"/>
<text transform="translate(172.4 334.5) scale(1 1.12)" font-size="7.9" letter-spacing="0.15" text-anchor="middle">FA (22:5)</text>
<path d="M128.4 340.1V403.5" stroke="#1c1c1c" stroke-width="1.15" fill="none"/>
<path d="M127.8 400.9H216.4" stroke="#1c1c1c" stroke-width="1.75" fill="none"/>
<text x="102.2" y="346.1" font-size="7.5" class="t" text-anchor="end">1.5</text>
<text x="106.9" y="345.9" font-size="7" text-anchor="middle">×</text>
<text x="114.9" y="346.1" font-size="7.5" class="t" text-anchor="middle">10</text>
<text x="120.5" y="343.2" font-size="5" class="t" text-anchor="middle">6</text>
<text x="102.2" y="365.37" font-size="7.5" class="t" text-anchor="end">1</text>
<text x="106.9" y="365.17" font-size="7" text-anchor="middle">×</text>
<text x="114.9" y="365.37" font-size="7.5" class="t" text-anchor="middle">10</text>
<text x="120.5" y="362.47" font-size="5" class="t" text-anchor="middle">6</text>
<text x="102.2" y="384.63" font-size="7.5" class="t" text-anchor="end">5</text>
<text x="106.9" y="384.43" font-size="7" text-anchor="middle">×</text>
<text x="114.9" y="384.63" font-size="7.5" class="t" text-anchor="middle">10</text>
<text x="120.5" y="381.73" font-size="5" class="t" text-anchor="middle">5</text>
<text x="120.4" y="403.9" font-size="7.5" class="t" text-anchor="middle">0</text>
<path d="M125.2 343.1H128.4M125.2 362.37H128.4M125.2 381.63H128.4M125.2 400.9H128.4M170.4 400.9v2.6M212.4 400.9v2.6M149.4 400.9v1.6M191.4 400.9v1.6" stroke="#1c1c1c" stroke-width="1" fill="none"/>
<text x="128.4" y="413.8" font-size="7.6" class="t" text-anchor="middle">0</text>
<text x="170.4" y="413.8" font-size="7.6" class="t" text-anchor="middle">21</text>
<text x="212.4" y="413.8" font-size="7.6" class="t" text-anchor="middle">42</text>
<path d="M212.4 350.5V377.9M211.4 350.5h2M211.4 377.9h2" stroke="#284a86" stroke-width="0.8" fill="none" opacity="0.7"/>
<path d="M212.4 386.9V400.9M211.4 386.9h2M211.4 400.9h2" stroke="#b80c3c" stroke-width="0.8" fill="none" opacity="0.7"/>
<path d="M212.4 370.9V400.9M211.4 370.9h2M211.4 400.9h2" stroke="#472a5a" stroke-width="0.8" fill="none" opacity="0.7"/>
<path d="M170.4 395.9V399.9M169.4 395.9h2M169.4 399.9h2" stroke="#284a86" stroke-width="0.8" fill="none" opacity="0.7"/>
<polyline points="128.4,400.4 170.4,398 212.4,364.2" stroke="#284a86" stroke-width="1.15" fill="none" stroke-linejoin="round"/>
<circle cx="128.4" cy="400.4" r="1.1" fill="#284a86"/>
<circle cx="170.4" cy="398" r="1.1" fill="#284a86"/>
<circle cx="212.4" cy="364.2" r="1.1" fill="#284a86"/>
<polyline points="128.4,400.4 170.4,398.5 212.4,380.3" stroke="#472a5a" stroke-width="1.15" fill="none" stroke-linejoin="round"/>
<circle cx="128.4" cy="400.4" r="1.1" fill="#472a5a"/>
<circle cx="170.4" cy="398.5" r="1.1" fill="#472a5a"/>
<circle cx="212.4" cy="380.3" r="1.1" fill="#472a5a"/>
<polyline points="128.4,400.6 170.4,399.9 212.4,393.4" stroke="#3a9648" stroke-width="1.15" fill="none" stroke-linejoin="round"/>
<circle cx="128.4" cy="400.6" r="1.1" fill="#3a9648"/>
<circle cx="170.4" cy="399.9" r="1.1" fill="#3a9648"/>
<circle cx="212.4" cy="393.4" r="1.1" fill="#3a9648"/>
<polyline points="128.4,400.6 170.4,399.9 212.4,395.3" stroke="#b80c3c" stroke-width="1.35" fill="none" stroke-linejoin="round"/>
<circle cx="128.4" cy="400.6" r="1.1" fill="#b80c3c"/>
<circle cx="170.4" cy="399.9" r="1.1" fill="#b80c3c"/>
<circle cx="212.4" cy="395.3" r="1.1" fill="#b80c3c"/>
<text transform="translate(303.6 334.5) scale(1 1.12)" font-size="7.9" letter-spacing="0.15" text-anchor="middle">FA (22:6)</text>
<path d="M259.6 340.1V403.5" stroke="#1c1c1c" stroke-width="1.15" fill="none"/>
<path d="M259 400.9H347.6" stroke="#1c1c1c" stroke-width="1.75" fill="none"/>
<text x="233.4" y="346.1" font-size="7.5" class="t" text-anchor="end">3</text>
<text x="238.1" y="345.9" font-size="7" text-anchor="middle">×</text>
<text x="246.1" y="346.1" font-size="7.5" class="t" text-anchor="middle">10</text>
<text x="251.7" y="343.2" font-size="5" class="t" text-anchor="middle">6</text>
<text x="233.4" y="365.37" font-size="7.5" class="t" text-anchor="end">2</text>
<text x="238.1" y="365.17" font-size="7" text-anchor="middle">×</text>
<text x="246.1" y="365.37" font-size="7.5" class="t" text-anchor="middle">10</text>
<text x="251.7" y="362.47" font-size="5" class="t" text-anchor="middle">6</text>
<text x="233.4" y="384.63" font-size="7.5" class="t" text-anchor="end">1</text>
<text x="238.1" y="384.43" font-size="7" text-anchor="middle">×</text>
<text x="246.1" y="384.63" font-size="7.5" class="t" text-anchor="middle">10</text>
<text x="251.7" y="381.73" font-size="5" class="t" text-anchor="middle">6</text>
<text x="251.6" y="403.9" font-size="7.5" class="t" text-anchor="middle">0</text>
<path d="M256.4 343.1H259.6M256.4 362.37H259.6M256.4 381.63H259.6M256.4 400.9H259.6M301.6 400.9v2.6M343.6 400.9v2.6M280.6 400.9v1.6M322.6 400.9v1.6" stroke="#1c1c1c" stroke-width="1" fill="none"/>
<text x="259.6" y="413.8" font-size="7.6" class="t" text-anchor="middle">0</text>
<text x="301.6" y="413.8" font-size="7.6" class="t" text-anchor="middle">21</text>
<text x="343.6" y="413.8" font-size="7.6" class="t" text-anchor="middle">42</text>
<path d="M343.6 349.2V382.9M342.6 349.2h2M342.6 382.9h2" stroke="#284a86" stroke-width="0.8" fill="none" opacity="0.7"/>
<path d="M343.6 382.9V400.9M342.6 382.9h2M342.6 400.9h2" stroke="#b80c3c" stroke-width="0.8" fill="none" opacity="0.7"/>
<path d="M301.6 394.9V398.9M300.6 394.9h2M300.6 398.9h2" stroke="#284a86" stroke-width="0.8" fill="none" opacity="0.7"/>
<polyline points="259.6,400.4 301.6,396.7 343.6,365.5" stroke="#284a86" stroke-width="1.15" fill="none" stroke-linejoin="round"/>
<circle cx="259.6" cy="400.4" r="1.1" fill="#284a86"/>
<circle cx="301.6" cy="396.7" r="1.1" fill="#284a86"/>
<circle cx="343.6" cy="365.5" r="1.1" fill="#284a86"/>
<polyline points="259.6,400.4 301.6,398 343.6,377.9" stroke="#472a5a" stroke-width="1.15" fill="none" stroke-linejoin="round"/>
<circle cx="259.6" cy="400.4" r="1.1" fill="#472a5a"/>
<circle cx="301.6" cy="398" r="1.1" fill="#472a5a"/>
<circle cx="343.6" cy="377.9" r="1.1" fill="#472a5a"/>
<polyline points="259.6,400.6 301.6,399.9 343.6,392.4" stroke="#3a9648" stroke-width="1.15" fill="none" stroke-linejoin="round"/>
<circle cx="259.6" cy="400.6" r="1.1" fill="#3a9648"/>
<circle cx="301.6" cy="399.9" r="1.1" fill="#3a9648"/>
<circle cx="343.6" cy="392.4" r="1.1" fill="#3a9648"/>
<polyline points="259.6,400.6 301.6,399.9 343.6,392" stroke="#b80c3c" stroke-width="1.35" fill="none" stroke-linejoin="round"/>
<circle cx="259.6" cy="400.6" r="1.1" fill="#b80c3c"/>
<circle cx="301.6" cy="399.9" r="1.1" fill="#b80c3c"/>
<circle cx="343.6" cy="392" r="1.1" fill="#b80c3c"/>
<text transform="translate(394.4 343.1) scale(1 1.08)" font-size="7.3" text-anchor="middle">S1P Supplementation</text>
<text transform="translate(394.3 351.5) scale(1 1.08)" font-size="7.3" text-anchor="middle">Doses:</text>
<path d="M367.2 360.5H394.4" stroke="#b80c3c" stroke-width="1.25"/>
<text x="398.6" y="362.9" font-size="6.8" class="t">0 (AS3)</text>
<path d="M367.2 374.2H394.4" stroke="#3a9648" stroke-width="1.25"/>
<text x="398.6" y="376.6" font-size="6.8" class="t">1 µM</text>
<path d="M367.2 388H394.4" stroke="#472a5a" stroke-width="1.25"/>
<text x="398.6" y="390.4" font-size="6.8" class="t">5 µM</text>
<path d="M367.2 401.5H394.4" stroke="#284a86" stroke-width="1.25"/>
<text x="398.6" y="403.9" font-size="6.8" class="t">10 µM</text>
</g>
</svg>
</body></html>
